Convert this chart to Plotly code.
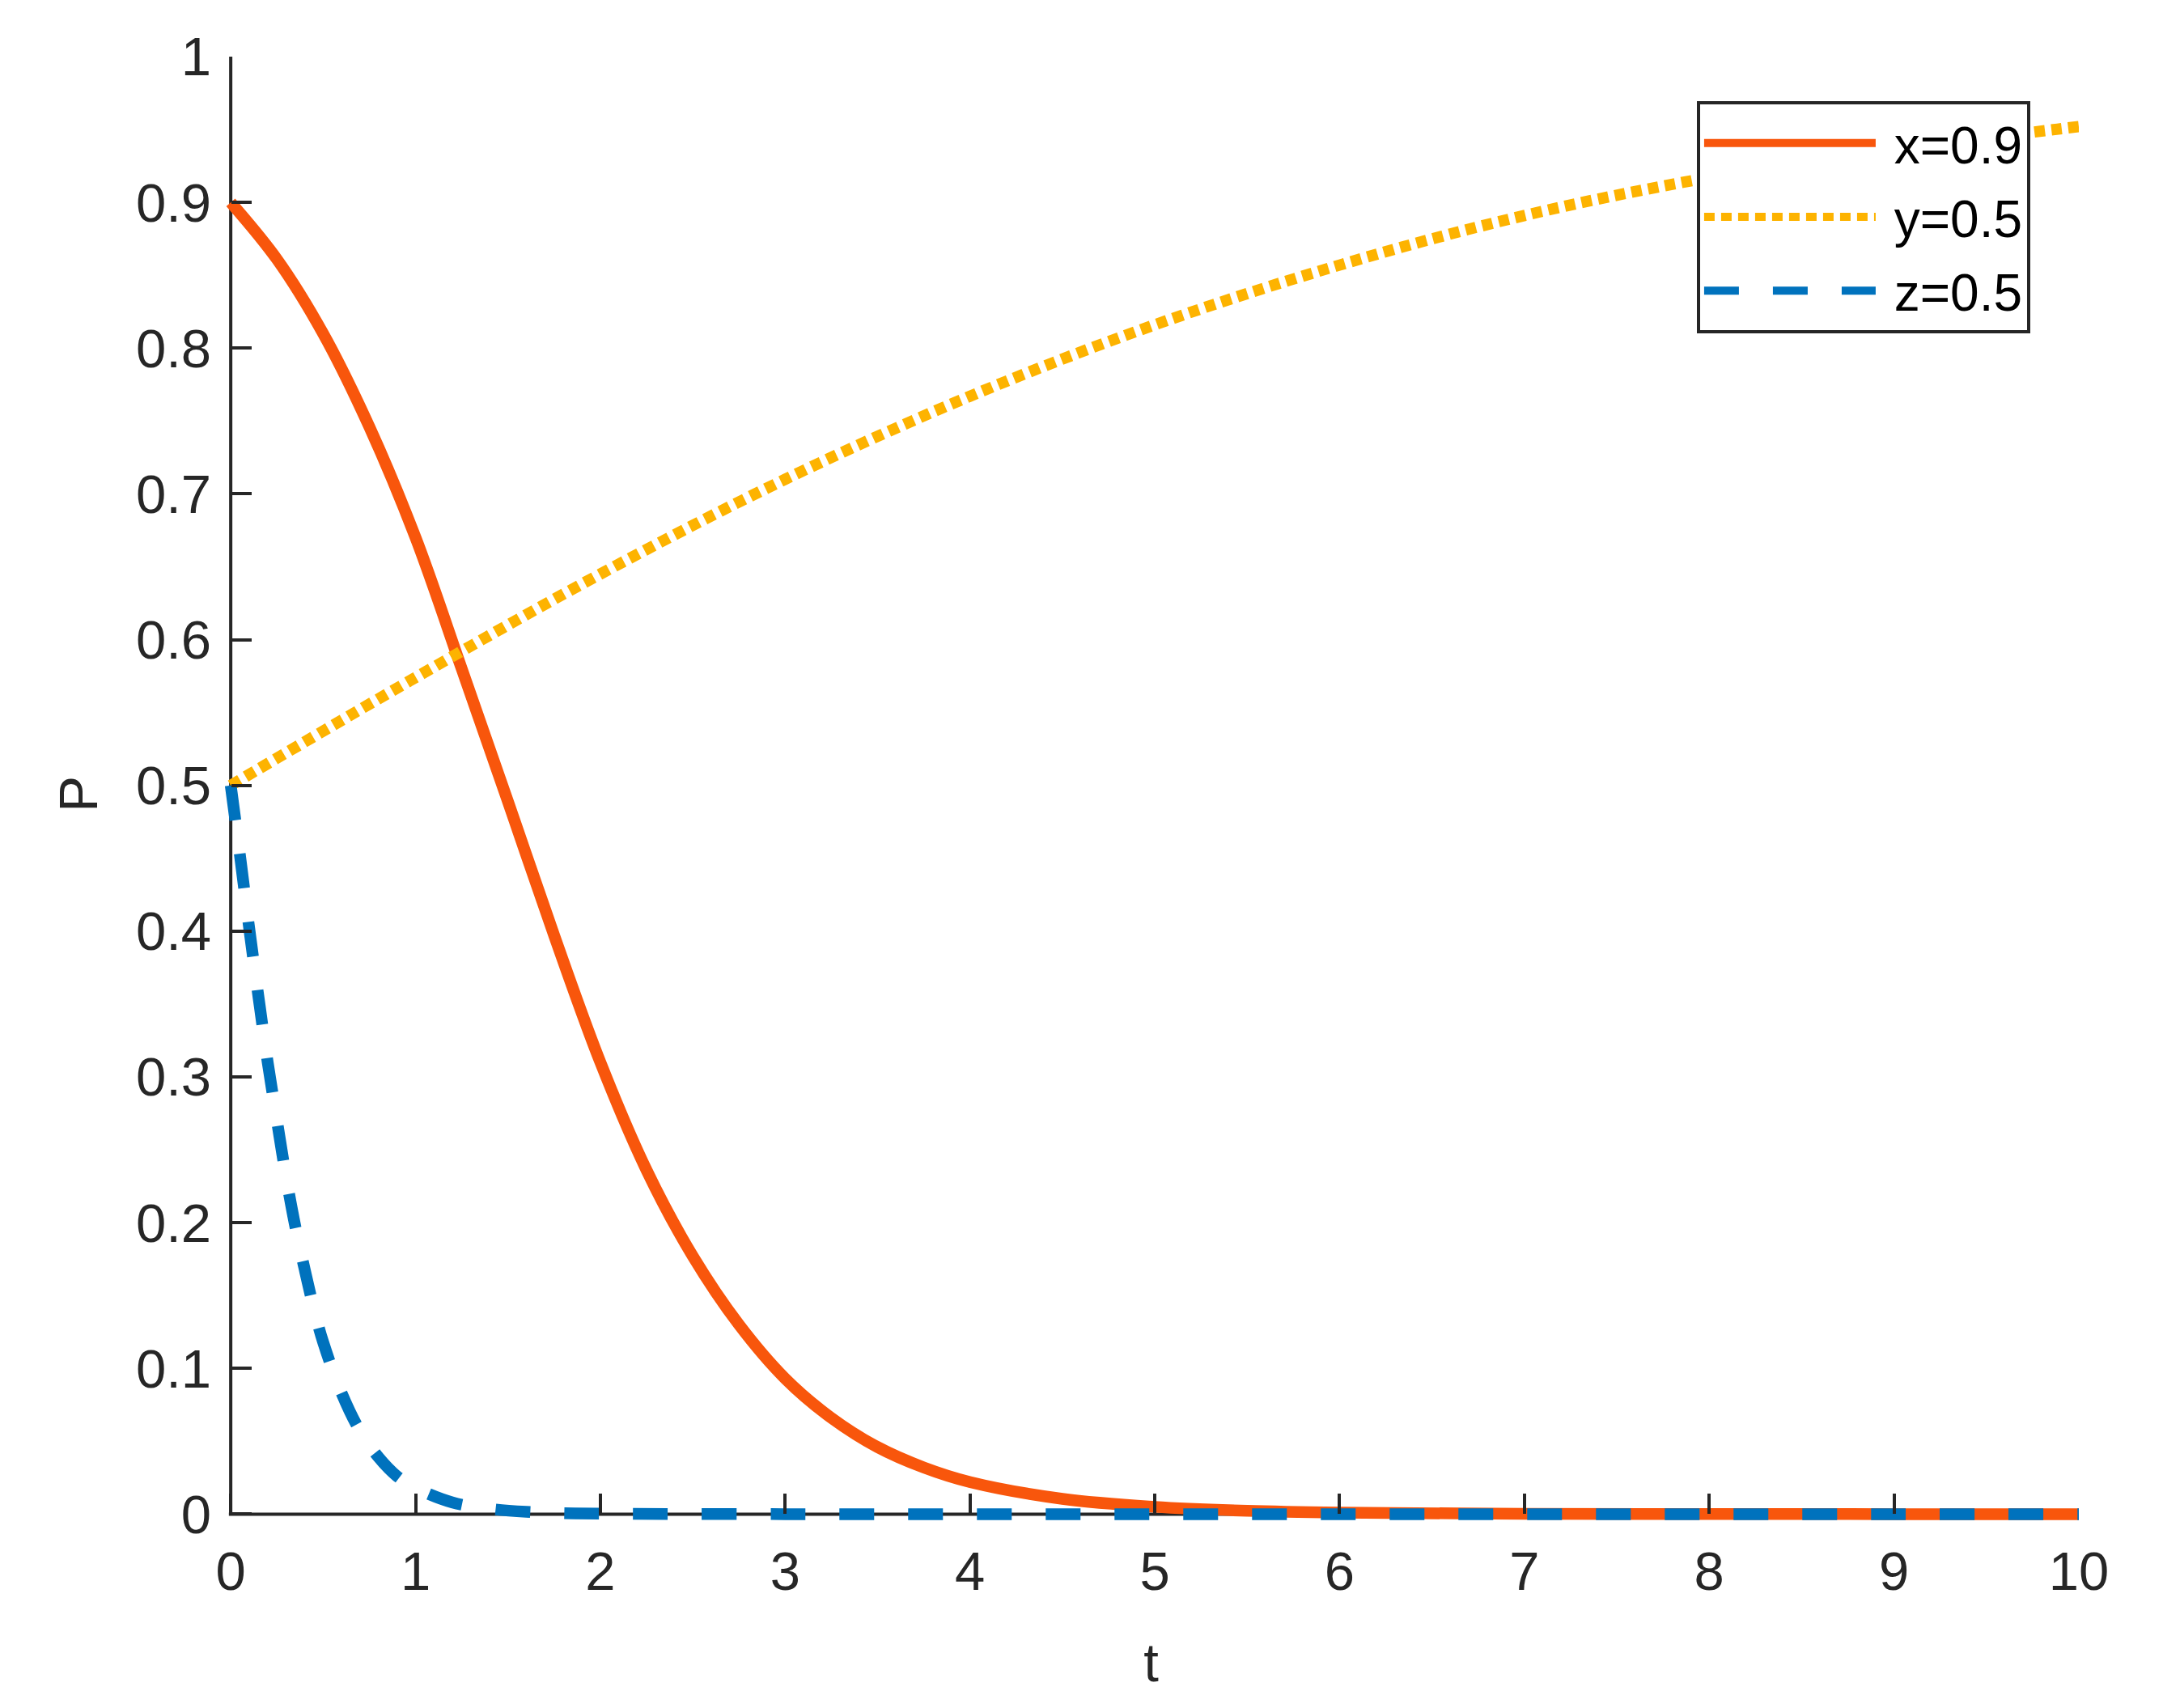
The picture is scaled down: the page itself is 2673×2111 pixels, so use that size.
import plotly.graph_objects as go

# time grid (t) and the three probability curves
t_x = [0, 0.25, 0.5, 0.75, 1.0, 1.25, 1.5, 1.75, 2.0, 2.25, 2.5, 2.75, 3.0,
       3.25, 3.5, 3.75, 4.0, 4.5, 5.0, 5.5, 6.0, 7.0, 8.0, 9.0, 10.0]
p_x = [0.900, 0.861, 0.810, 0.746, 0.670, 0.580, 0.489, 0.397, 0.310, 0.236,
       0.177, 0.130, 0.093, 0.066, 0.046, 0.032, 0.022, 0.0105, 0.005, 0.0023,
       0.0011, 0.00025, 0.00005, 0.0, 0.0]

t_y = [0, 1, 2, 3, 4, 5, 6, 7, 8, 9, 10]
p_y = [0.500, 0.574, 0.645, 0.710, 0.767, 0.816, 0.857, 0.891, 0.917, 0.936, 0.952]

t_z = [0, 0.05, 0.1, 0.15, 0.2, 0.25, 0.3, 0.35, 0.4, 0.45, 0.5, 0.6, 0.7,
       0.8, 0.9, 1.0, 1.2, 1.4, 1.6, 1.8, 2.0, 3.0, 4.0, 5.0, 6.0, 7.0, 8.0,
       9.0, 10.0]
p_z = [0.500, 0.452, 0.402, 0.355, 0.310, 0.270, 0.231, 0.197, 0.168, 0.141,
       0.118, 0.083, 0.057, 0.039, 0.026, 0.018, 0.008, 0.0037, 0.0016, 0.0007,
       0.0003, 0, 0, 0, 0, 0, 0, 0, 0]

names = ['x=0.9', 'y=0.5', 'z=0.5']
x_ticks = list(range(0, 11))
y_ticks = [0, 0.1, 0.2, 0.3, 0.4, 0.5, 0.6, 0.7, 0.8, 0.9, 1]
y_tick_text = ['0', '0.1', '0.2', '0.3', '0.4', '0.5', '0.6', '0.7', '0.8', '0.9', '1']

AX = '#262626'
FONT = 'Liberation Sans, Arial, sans-serif'
PAD = '\u00a0'  # small gap between legend line and label

# a little room past 0 on both axes so the thick lines lying on the axes are not clipped
x_lo, y_lo = -0.04, -0.012

fig = go.Figure()
fig.add_trace(go.Scatter(x=t_x, y=p_x, name=PAD + names[0], mode='lines', legendgroup='x',
                         line=dict(color='#F8560C', width=14.5, shape='spline')))
fig.add_trace(go.Scatter(x=t_y, y=p_y, name=PAD + names[1], mode='lines', legendgroup='y',
                         line=dict(color='#FDB300', width=14, dash='13px,8px', shape='spline')))
fig.add_trace(go.Scatter(x=t_z, y=p_z, name=PAD + names[2], mode='lines', legendgroup='z',
                         line=dict(color='#0072BD', width=14.5, dash='43px,42px', shape='spline')))

# axis lines (MATLAB style: only left and bottom) drawn under the curves
fig.add_shape(type='line', x0=-0.01, x1=10, y0=0, y1=0, xref='x', yref='y',
              line=dict(color=AX, width=4), layer='below')
fig.add_shape(type='line', x0=0, x1=0, y0=0, y1=1, xref='x', yref='y',
              line=dict(color=AX, width=4), layer='below')

fig.update_layout(
    width=2673, height=2111,
    paper_bgcolor='white', plot_bgcolor='white',
    margin=dict(l=276, r=104, t=70, b=218),
    font=dict(family=FONT, size=67, color=AX),
    legend=dict(x=0.9738, y=0.970, xanchor='right', yanchor='top',
                bgcolor='white', bordercolor=AX, borderwidth=4,
                font=dict(size=64, color='black'), itemwidth=212,
                tracegroupgap=5),
)

fig.update_xaxes(range=[x_lo, 10], tickvals=x_ticks, showgrid=False, zeroline=False,
                 showline=False, anchor='free', position=-y_lo / (1 - y_lo),
                 ticks='inside', ticklen=25, tickwidth=4, tickcolor=AX,
                 ticklabelstandoff=26,
                 title=dict(text='t', standoff=52, font=dict(size=67)))
fig.update_yaxes(range=[y_lo, 1], tickvals=y_ticks, ticktext=y_tick_text,
                 showgrid=False, zeroline=False,
                 showline=False, anchor='free', position=-x_lo / (10 - x_lo),
                 ticks='inside', ticklen=25, tickwidth=4, tickcolor=AX,
                 ticklabelstandoff=24,
                 title=dict(text='P', standoff=24, font=dict(size=67)))

# drop the default page margin so the figure sits at the window's corner
fig.write_html('out.html', config={'displayModeBar': False},
               post_script="document.body.style.margin='0';")
